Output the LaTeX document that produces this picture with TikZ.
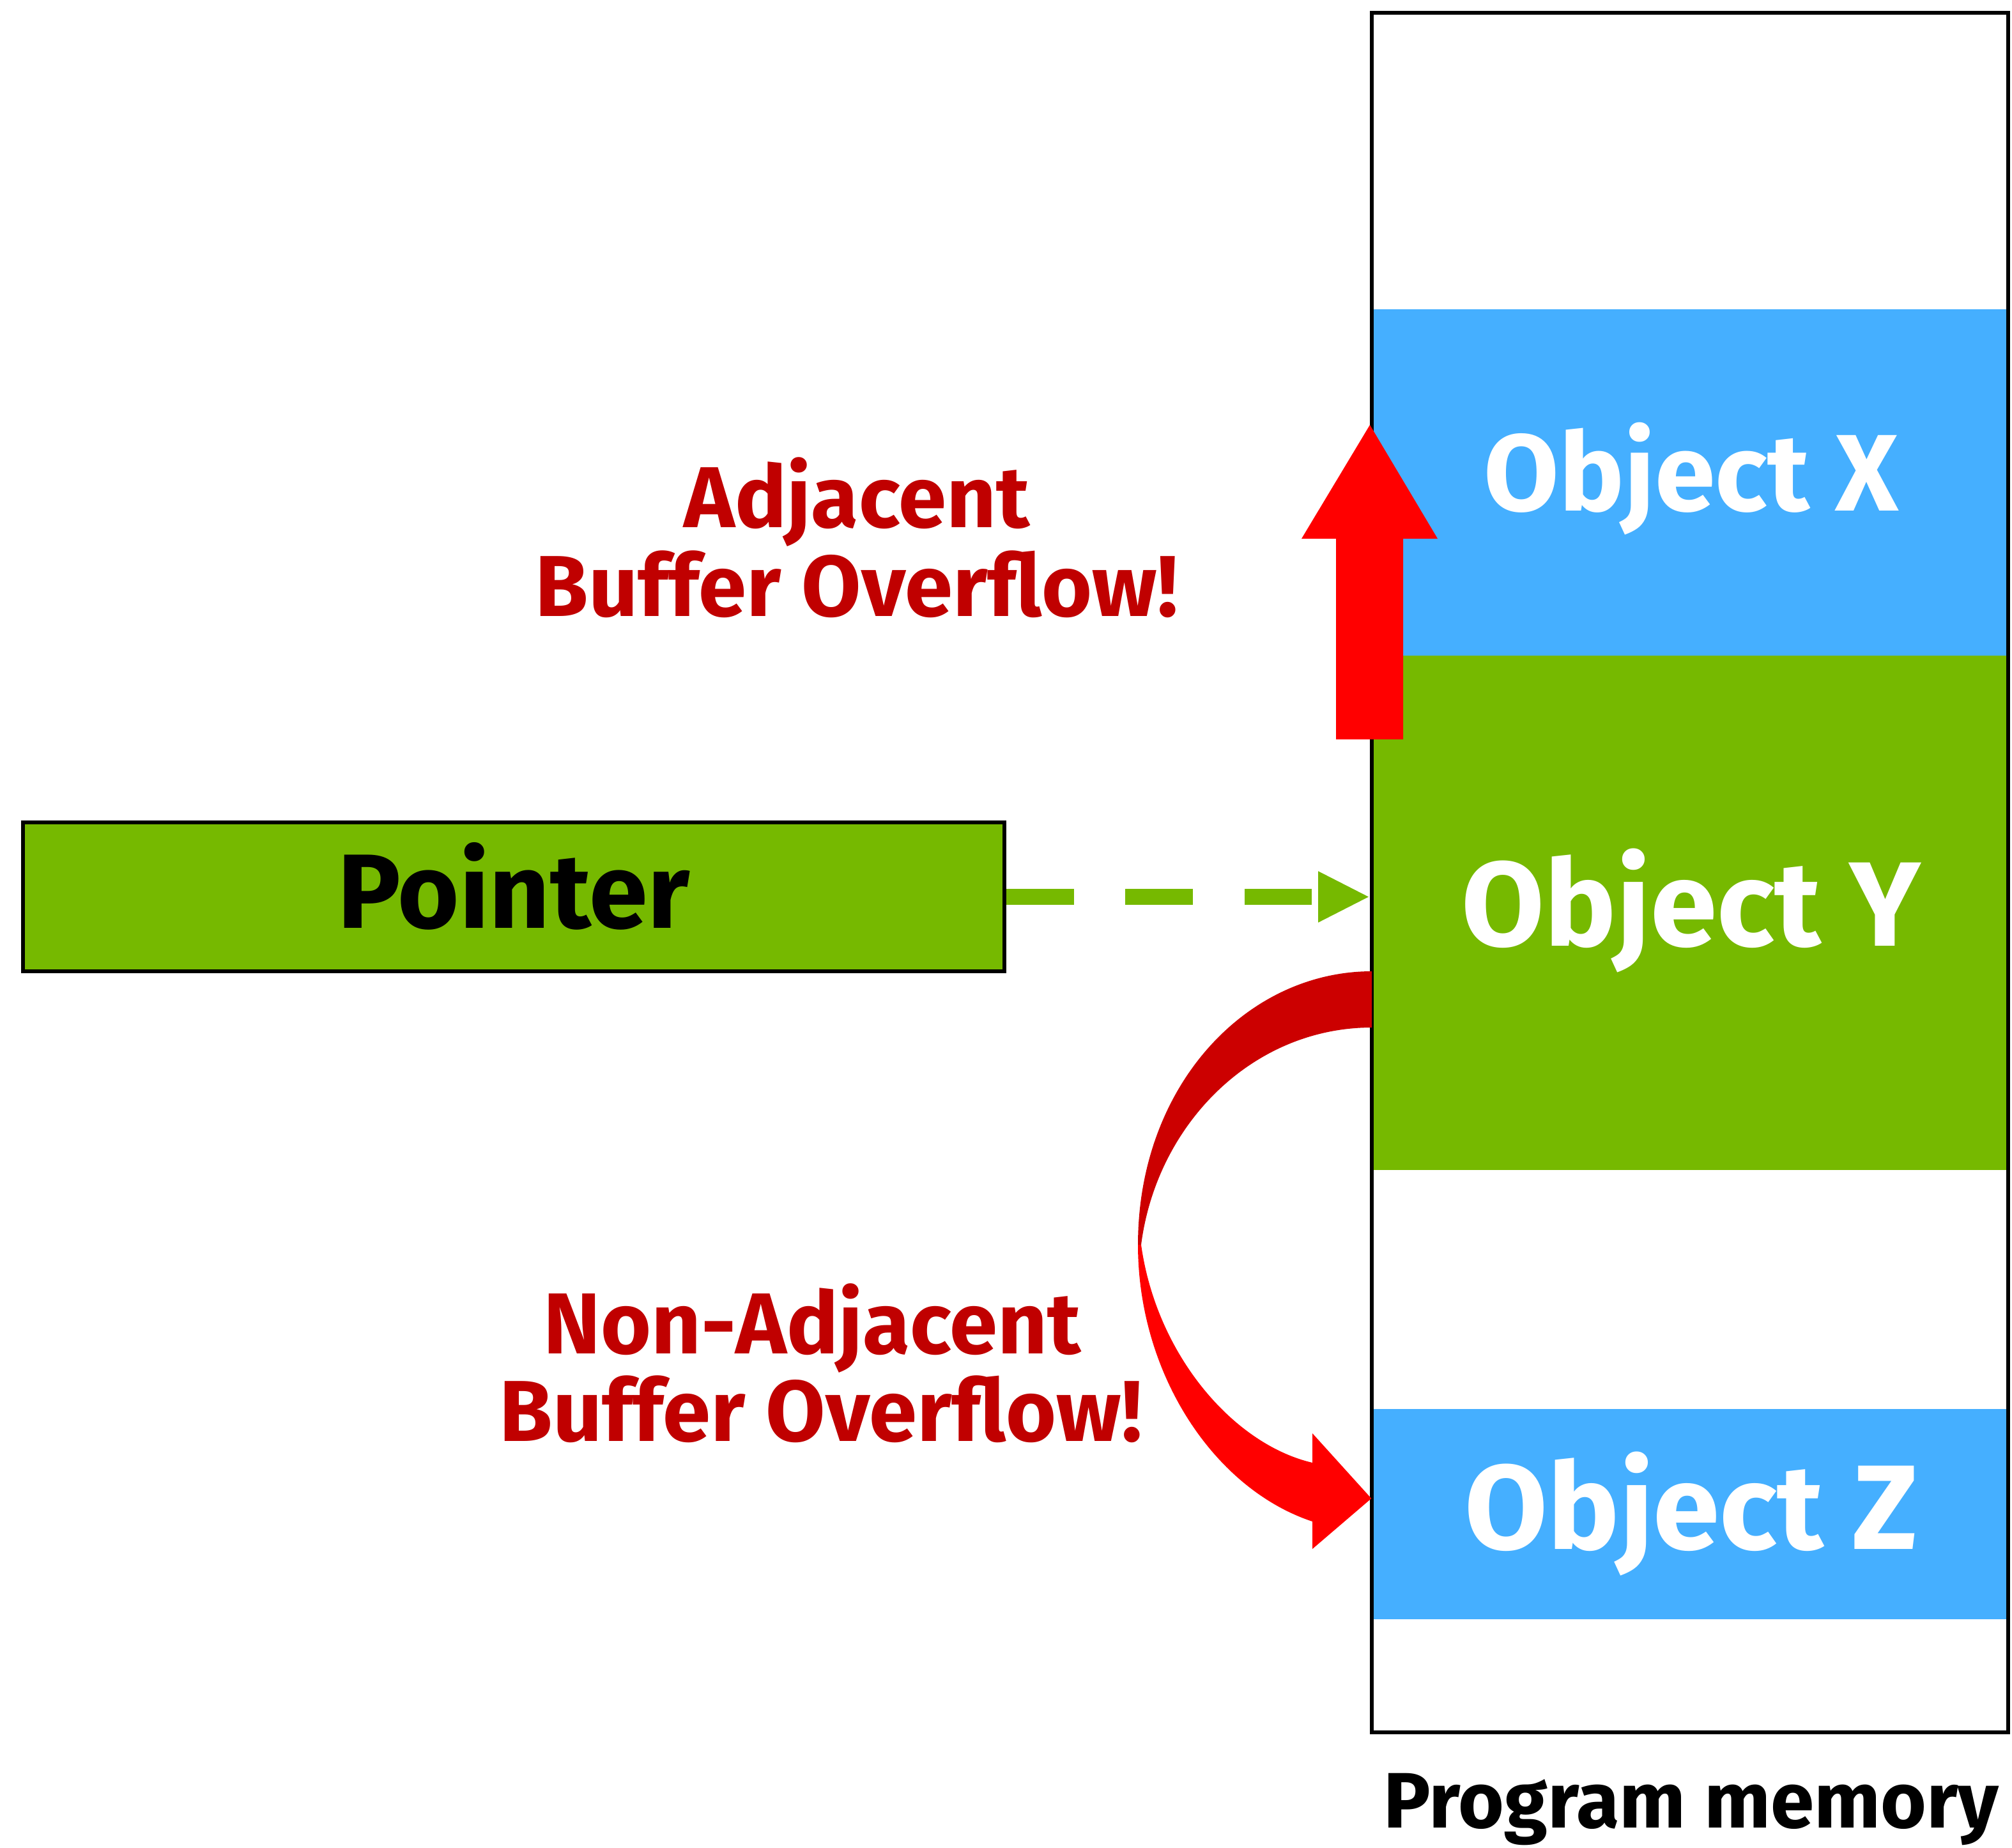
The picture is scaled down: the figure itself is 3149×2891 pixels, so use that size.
\documentclass[tikz,border=0pt]{standalone}
\usepackage{fontspec}
\setmainfont{Fira Sans}
\usepackage{tikz}
\usetikzlibrary{positioning, arrows.meta}

\definecolor{nvgreen}{HTML}{76B900}
\definecolor{memblue}{HTML}{45AFFF}
\definecolor{ovfred}{HTML}{FF0000}
\definecolor{ovfdark}{HTML}{CC0000}
\definecolor{labelred}{HTML}{C00000}

\begin{document}
\begin{tikzpicture}[x=0.01cm, y=-0.01cm,
        band/.style={rectangle, fill=#1, inner sep=0pt, minimum width=996*0.01cm},
        objlabel/.style={anchor=base, inner sep=0pt, text=white, font=\fontsize{#1}{#1}\selectfont\bfseries},
        warnlabel/.style={anchor=base, inner sep=0pt, text=labelred, font=\fontsize{38.5}{38.5}\selectfont\bfseries}]
        \useasboundingbox (0, 0) rectangle (3149, 2891);

        % memory column and its objects
        \node (objx) [band=memblue, minimum height=542*0.01cm] at (2645, 755) {};
        \node (objy) [band=nvgreen, minimum height=805*0.01cm] at (2645, 1428.5) {};
        \node (objz) [band=memblue, minimum height=329*0.01cm] at (2645, 2369.5) {};
        \node (mem) [rectangle, draw=black, line width=1.7pt, inner sep=0pt,
            minimum width=996*0.01cm, minimum height=2691*0.01cm] at (2645, 1365.5) {};
        \node (lx) [objlabel=48.5] at (2647, 799) {Object X};
        \node (ly) [objlabel=53.5] at (2647, 1480) {Object Y};
        \node (lz) [objlabel=53.5] at (2647, 2424) {Object Z};
        \node (lmem) [anchor=base, inner sep=0pt, font=\fontsize{35}{35}\selectfont\bfseries] at (2647, 2860) {Program memory};

        % pointer
        \node (ptr) [rectangle, draw=black, fill=nvgreen, line width=1.7pt, inner sep=0pt,
            minimum width=1536*0.01cm, minimum height=233*0.01cm] at (804, 1403.5) {};
        \node (lptr) [anchor=base, inner sep=0pt, font=\fontsize{47}{47}\selectfont\bfseries] at (804, 1452) {Pointer};
        \draw [nvgreen, line width=7pt, dash pattern=on 30pt off 23pt, -{Triangle[length=23pt, width=21pt]}]
            (ptr.east) -- (mem.west |- ptr.east);

        % adjacent overflow
        \coordinate (tipx) at (mem.west |- 0, 665);
        \fill [ovfred] (tipx) -- ++(106, 178) -- ++(-54, 0) -- ++(0, 314) -- ++(-105, 0)
            -- ++(0, -314) -- ++(-54, 0) -- cycle;
        \node (ladj) [warnlabel] at (1341, 825) {Adjacent};
        \node (ladjb) [warnlabel] at (1341, 964) {Buffer Overflow!};

        % non-adjacent overflow
        \fill [ovfdark] (2147, 1520) .. controls (1950, 1520) and (1781, 1700) .. (1781, 1948)
            -- (1786, 1948) .. controls (1810, 1760) and (1960, 1608) .. (2147, 1608) -- cycle;
        \fill [ovfred] (1781, 1948) .. controls (1781, 2150) and (1900, 2330) .. (2054, 2381)
            -- (2054, 2424) -- (objz.west |- 0, 2345) -- (2054, 2243) -- (2054, 2289)
            .. controls (1930, 2260) and (1810, 2120) .. (1786, 1948) -- cycle;
        \node (lnon) [warnlabel] at (1271, 2118) {Non-Adjacent};
        \node (lnonb) [warnlabel] at (1285, 2255) {Buffer Overflow!};
\end{tikzpicture}
\end{document}
